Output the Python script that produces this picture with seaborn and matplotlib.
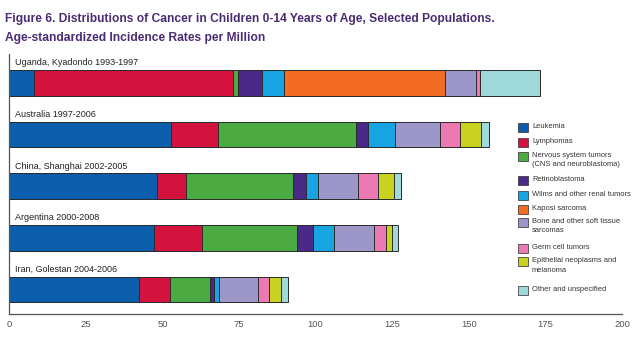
import matplotlib
matplotlib.use("Agg")
import matplotlib.pyplot as plt
from matplotlib.patches import Rectangle
import numpy as np
import seaborn as sns

# Populations (top to bottom)
populations = [
    "Uganda, Kyadondo 1993-1997",
    "Australia 1997-2006",
    "China, Shanghai 2002-2005",
    "Argentina 2000-2008",
    "Iran, Golestan 2004-2006",
]

# Cancer groups in stacking order (left to right)
cancer_types = [
    "Leukemia",
    "Lymphomas",
    "Nervous system tumors\n(CNS and neuroblastoma)",
    "Retinoblastoma",
    "Wilms and other renal tumors",
    "Kaposi sarcoma",
    "Bone and other soft tissue\nsarcomas",
    "Germ cell tumors",
    "Epithelial neoplasms and\nmelanoma",
    "Other and unspecified",
]

# Age-standardized incidence rates per million, one value per population
leukemia = [7.9, 52.8, 48.3, 47.3, 42.5]
lymphomas = [65.2, 15.4, 9.4, 15.6, 10.0]
nervous_system = [1.5, 44.9, 35.0, 31.1, 13.0]
retinoblastoma = [7.8, 4.1, 4.3, 5.2, 1.3]
wilms_renal = [7.2, 8.6, 3.8, 6.8, 1.5]
kaposi = [52.5, 0.0, 0.0, 0.0, 0.0]
bone_soft_tissue = [10.1, 14.7, 13.1, 13.1, 13.0]
germ_cell = [1.3, 6.7, 6.5, 3.8, 3.5]
epithelial = [0.0, 6.9, 5.2, 2.0, 3.9]
other = [19.8, 2.5, 2.1, 2.1, 2.3]

x_ticks = [0, 25, 50, 75, 100, 125, 150, 175, 200]

colors = [
    "#0b5eab",  # leukemia
    "#d3123e",  # lymphomas
    "#4caa42",  # nervous system
    "#4a2a88",  # retinoblastoma
    "#16a5e1",  # wilms
    "#f26d22",  # kaposi
    "#9c96c9",  # bone
    "#ec79b2",  # germ cell
    "#c9d31f",  # epithelial
    "#a0d9d9",  # other
]

series = np.array([leukemia, lymphomas, nervous_system, retinoblastoma,
                   wilms_renal, kaposi, bone_soft_tissue, germ_cell,
                   epithelial, other]).T
cumulative = np.cumsum(series, axis=1)

sns.set_theme(style="white")
plt.rcParams["font.family"] = ["Liberation Sans", "DejaVu Sans"]

W, H = 640, 341
fig = plt.figure(figsize=(6.4, 3.41), dpi=100)
ax = fig.add_axes([9.3 / W, 1 - 314 / H, (622 - 9.3) / W, (314 - 54) / H])

# Stacked bars: draw running totals from the longest down so each segment shows
for i in reversed(range(len(cancer_types))):
    sns.barplot(x=cumulative[:, i], y=populations, orient="h", color=colors[i],
                saturation=1, width=0.5, edgecolor="#2b2b2b", linewidth=0.7,
                ax=ax)

ax.set_xlim(0, 200)
ax.set_ylim(4.475, -0.56)
ax.set_yticks([])
ax.set_ylabel("")
ax.set_xlabel("")
ax.set_xticks(x_ticks)
ax.set_xticklabels([str(t) for t in x_ticks])
ax.tick_params(axis="x", direction="in", length=6, width=0.8, color="#555555",
               labelsize=6.8, labelcolor="#555555", pad=4)

for side in ["top", "right"]:
    ax.spines[side].set_visible(False)
for side in ["left", "bottom"]:
    ax.spines[side].set_color("#555555")
    ax.spines[side].set_linewidth(0.9)

# Population names above each bar
for i, name in enumerate(populations):
    ax.text(1.9, i - 0.39, name, va="center", ha="left", fontsize=6.5,
            color="#222222")

# Title
title_color = "#4b2c72"
fig.text(5 / W, 1 - 19 / H,
         "Figure 6. Distributions of Cancer in Children 0-14 Years of Age, Selected Populations.",
         ha="left", va="center", fontsize=8.65, fontweight="bold", color=title_color)
fig.text(5 / W, 1 - 38 / H,
         "Age-standardized Incidence Rates per Million",
         ha="left", va="center", fontsize=8.65, fontweight="bold", color=title_color)

# Legend drawn as swatches with labels
legend_y = [127, 142.5, 156, 180.5, 195, 209.3, 222.3, 248.5, 261.7, 290]
for label, col, yc in zip(cancer_types, colors, legend_y):
    fig.add_artist(Rectangle((517.5 / W, 1 - (yc + 4.5) / H), 10.5 / W, 9 / H,
                             transform=fig.transFigure, facecolor=col,
                             edgecolor="#2b2b2b", linewidth=0.5))
    fig.text(532 / W, 1 - (yc - 4.2) / H, label, ha="left", va="top",
             fontsize=5.4, color="#333333", linespacing=1.45)

fig.savefig("out.png", dpi=100)
